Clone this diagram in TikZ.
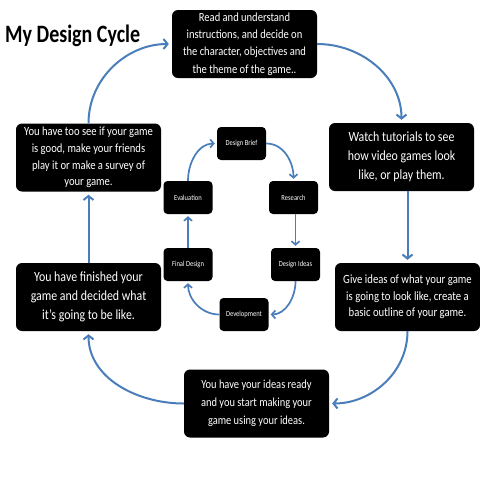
\documentclass[tikz,border=0pt]{standalone}
\usepackage{fontspec}
\usetikzlibrary{arrows.meta}
\newfontfamily\calfont[FakeStretch=0.85]{Carlito}
\newfontfamily\calbold[FakeStretch=0.8]{Carlito Bold}
\definecolor{cyclblue}{HTML}{4A7EBB}
\tikzset{
  outerbox/.style={fill=black, rounded corners=6pt, minimum width=145pt, minimum height=68pt, inner sep=0pt, text=white, align=center},
  fsize/.style 2 args={font=\calfont\fontsize{#1}{#2}\selectfont},
  innerbox/.style={fill=black, rounded corners=4pt, minimum width=49pt, minimum height=33pt, inner sep=0pt, text=white, align=center, fsize={7.7}{9}},
  flow/.style={draw=cyclblue, line width=2pt, -{Straight Barb[length=4pt,width=10pt,line width=2pt]}, shorten >=3pt},
  iflow/.style={draw=cyclblue, line width=1.7pt, -{Straight Barb[length=3.5pt,width=8pt,line width=1.7pt]}, shorten >=2pt}
}
\begin{document}
\begin{tikzpicture}[x=1pt,y=-1pt]
\useasboundingbox (0,0) rectangle (480,480);
\fill[white] (0,0) rectangle (480,480);
\node[anchor=base west, inner sep=0pt, font=\calbold\fontsize{25}{30}\selectfont] (title) at (5,42) {My Design Cycle};

\node[outerbox, fsize={12.4}{17.3}] (read) at (244.5,44) {Read and understand\\instructions, and decide on\\the character, objectives and\\the theme of the game..};
\node[outerbox, fsize={14}{19}] (watch) at (401.5,157) {Watch tutorials to see\\how video games look\\like, or play them.};
\node[outerbox, fsize={12.5}{16.7}] (test) at (88.5,157.5) {You have too see if your game\\is good, make your friends\\play it or make a survey of\\your game.};
\node[outerbox, fsize={14}{19}] (finish) at (88.5,297) {You have finished your\\game and decided what\\it’s going to be like.};
\node[outerbox, fsize={12.6}{16.7}] (ideas) at (407.5,297) {Give ideas of what your game\\is going to look like, create a\\basic outline of your game.};
\node[outerbox, fsize={12.3}{18}] (make) at (256.5,403.5) {You have your ideas ready\\and you start making your\\game using your ideas.};

\node[innerbox] (brief) at (241.5,143.5) {Design Brief};
\node[innerbox] (eval) at (188,197.5) {Evaluation};
\node[innerbox] (res) at (293.5,197.5) {Research};
\node[innerbox] (fdes) at (188,264.5) {Final Design};
\node[innerbox] (dide) at (295.5,264.5) {Design Ideas};
\node[innerbox] (dev) at (244,314.5) {Development};

\draw[flow] (test.north) to[out=90,in=180] (read.west);
\draw[flow] (read.east) to[out=0,in=90] (watch.north);
\draw[flow] (watch.south -| ideas.north) -- (ideas.north);
\draw[flow] (ideas.south) to[out=-90,in=0] (make.east);
\draw[flow] (make.west) to[out=180,in=-90] (finish.south);
\draw[flow] (finish.north) -- (test.south);

\draw[iflow] (eval.north) to[out=90,in=180] (brief.west);
\draw[iflow] (brief.east) to[out=0,in=90] (res.north);
\draw[iflow] (res.south -| dide.north) -- (dide.north);
\draw[iflow] (dide.south) to[out=-90,in=0] (dev.east);
\draw[iflow] (dev.west) to[out=180,in=-90] (fdes.south);
\draw[iflow] (fdes.north) -- (eval.south);
\end{tikzpicture}
\end{document}
